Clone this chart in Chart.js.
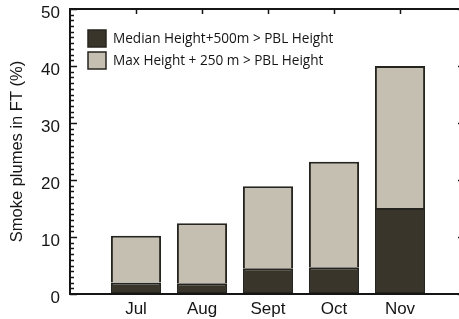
<!DOCTYPE html>
<html><head><meta charset="utf-8">
<script src="https://cdn.jsdelivr.net/npm/chart.js@4.4.1/dist/chart.umd.min.js"></script>
<style>html,body{margin:0;padding:0;overflow:hidden;background:#fff}#wrap{width:470px;height:319px}</style>
</head><body><div id="wrap"><canvas id="c" width="470" height="319"></canvas></div>
<script>
const categories = ['', 'Jul', 'Aug', 'Sept', 'Oct', 'Nov', ''];
const medianPlus500 = [null, 2.0, 1.9, 4.5, 4.7, 15.1, null];
const maxPlus250 = [null, 10.2, 12.4, 18.9, 23.2, 40.0, null];
const yTicks = [0, 10, 20, 30, 40, 50];
const seriesLabels = ['Median Height+500m > PBL Height', 'Max Height + 250 m > PBL Height'];
const yTitle = 'Smoke plumes in FT (%)';

const DARK = '#39352b', LIGHT = '#c5bfb2', EDGE = '#26241f', INK = '#151515';
const lightSegment = maxPlus250.map((v, i) => v == null ? null : +(v - medianPlus500[i]).toFixed(2));

const framePlugin = {
  id: 'frame',
  afterDraw(chart) {
    const {ctx, chartArea: a, scales: {x, y}} = chart;
    ctx.save();
    ctx.strokeStyle = INK;
    ctx.lineWidth = 2;
    ctx.strokeRect(a.left, a.top, a.right - a.left, a.bottom - a.top);
    ctx.lineWidth = 1.5;
    ctx.beginPath();
    for (let v = 0; v <= 50; v++) {
      const py = Math.round(y.getPixelForValue(v)) + 0.5;
      const major = yTicks.includes(v);
      ctx.moveTo(a.left, py); ctx.lineTo(a.left + (major ? 7 : 4), py);
      if (major) { ctx.moveTo(a.right, py); ctx.lineTo(a.right - 8, py); }
    }
    for (let i = 1; i < categories.length - 1; i++) {
      const px = Math.round(x.getPixelForValue(i)) + 0.5;
      ctx.moveTo(px, a.top); ctx.lineTo(px, a.top + 5);
    }
    ctx.stroke();
    // legend
    const ds = chart.data.datasets;
    ctx.font = '13.6px "Open Sans"';
    ctx.textBaseline = 'middle';
    ctx.textAlign = 'left';
    ds.forEach((d, i) => {
      const bx = 88, by = 30 + i * 22;
      ctx.fillStyle = d.backgroundColor;
      ctx.fillRect(bx, by, 18, 17);
      ctx.lineWidth = 1.5;
      ctx.strokeStyle = EDGE;
      ctx.strokeRect(bx, by, 18, 17);
      ctx.fillStyle = INK;
      ctx.fillText(d.label, 113, by + 9);
    });
    ctx.restore();
  }
};

new Chart(document.getElementById('c'), {
  type: 'bar',
  data: {
    labels: categories,
    datasets: [
      {label: seriesLabels[0], data: medianPlus500, backgroundColor: DARK, borderColor: EDGE, borderWidth: 2, borderSkipped: false},
      {label: seriesLabels[1], data: lightSegment, backgroundColor: LIGHT, borderColor: EDGE, borderWidth: {top: 2, left: 2, right: 2, bottom: 0}, borderSkipped: false}
    ]
  },
  options: {
    responsive: false,
    animation: false,
    devicePixelRatio: 1,
    layout: {padding: {top: 9, right: 4, left: 0, bottom: 0}},
    categoryPercentage: 1,
    barPercentage: 0.76,
    plugins: {legend: {display: false}, tooltip: {enabled: false}},
    scales: {
      x: {
        type: 'category', offset: false, stacked: true,
        grid: {display: false, drawTicks: false}, border: {display: false},
        ticks: {font: {family: 'Liberation Sans', size: 17}, color: INK, padding: 5, maxRotation: 0, autoSkip: false},
        afterFit(s) { s.height = 25; s.paddingLeft = 0; s.paddingRight = 0; }
      },
      y: {
        min: 0, max: 50, stacked: true,
        grid: {display: false, drawTicks: false}, border: {display: false},
        ticks: {stepSize: 10, font: {family: 'Liberation Sans', size: 17}, color: INK, padding: 10, labelOffset: 4},
        title: {display: true, text: yTitle, font: {family: 'Liberation Sans', size: 16.5}, color: INK, padding: {top: 8, bottom: 0}},
        afterFit(s) { s.width = 70; s.paddingTop = 0; s.paddingBottom = 0; }
      }
    }
  },
  plugins: [framePlugin]
});
</script></body></html>
